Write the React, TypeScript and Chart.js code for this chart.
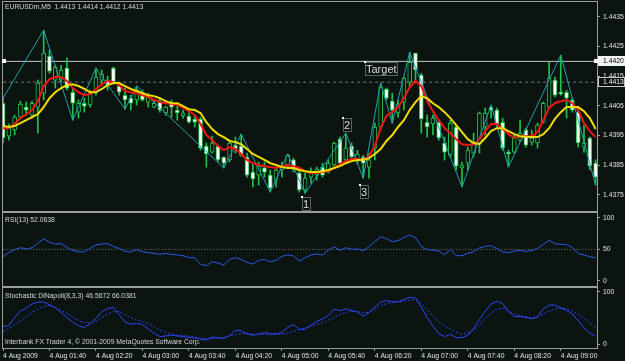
import React, { useEffect, useRef } from "react";
import { Chart, registerables } from "chart.js";

Chart.register(...registerables);

// ---------------- data ----------------
const titleText = "EURUSDm,M5  1.4413 1.4414 1.4412 1.4413";
const rsiTitle = "RSI(13) 52.0638";
const stochTitle = "Stochastic DiNapoli(8,3,3) 46.5672 66.0381";
const copyrightText = "Interbank FX Trader 4, \u00a9 2001-2009 MetaQuotes Software Corp.";

const timeLabels = [
  "4 Aug 2009", "4 Aug 01:40", "4 Aug 02:20", "4 Aug 03:00", "4 Aug 03:40", "4 Aug 04:20",
  "4 Aug 05:00", "4 Aug 05:40", "4 Aug 06:20", "4 Aug 07:00", "4 Aug 07:40", "4 Aug 08:20", "4 Aug 09:00",
];
const labelStep = 8; // bars between time labels (40 min on M5)
const priceTicks = [1.4375, 1.4385, 1.4395, 1.4405, 1.4415, 1.4425, 1.4435];
const rsiTicks = [0, 50, 100];
const rsiLevel = 50;
const stochTicks = [0, 100];

const openP = [
  1.44059, 1.43948, 1.43969, 1.44012, 1.44046, 1.44019, 1.44046, 1.44093, 1.44218, 1.44137,
  1.44147, 1.44177, 1.44096, 1.44029, 1.44059, 1.44053, 1.44096, 1.44137, 1.44137, 1.44177,
  1.44117, 1.44086, 1.44076, 1.44070, 1.44096, 1.44063, 1.44046, 1.44066, 1.44026, 1.44059,
  1.44036, 1.44016, 1.44016, 1.44006, 1.44006, 1.43915, 1.43894, 1.43915, 1.43878, 1.43868,
  1.43918, 1.43915, 1.43878, 1.43827, 1.43817, 1.43841, 1.43817, 1.43800, 1.43834, 1.43847,
  1.43868, 1.43824, 1.43767, 1.43810, 1.43817, 1.43844, 1.43827, 1.43851, 1.43938, 1.43868,
  1.43915, 1.43864, 1.43878, 1.43844, 1.43908, 1.43979, 1.44107, 1.44066, 1.44026, 1.44063,
  1.44130, 1.44228, 1.44154, 1.43995, 1.43989, 1.43995, 1.43925, 1.43884, 1.43979, 1.43841,
  1.43857, 1.43891, 1.43925, 1.43979, 1.44046, 1.44036, 1.43995, 1.43894, 1.43894, 1.43935,
  1.43969, 1.43928, 1.43925, 1.43995, 1.44046, 1.44137, 1.44096, 1.44096, 1.44070, 1.44029,
  1.43911, 1.43942, 1.43857,
];
const highP = [
  1.44080, 1.43989, 1.44019, 1.44066, 1.44063, 1.44066, 1.44137, 1.44305, 1.44238, 1.44187,
  1.44187, 1.44211, 1.44110, 1.44070, 1.44076, 1.44103, 1.44177, 1.44171, 1.44150, 1.44181,
  1.44127, 1.44110, 1.44086, 1.44117, 1.44103, 1.44093, 1.44070, 1.44076, 1.44049, 1.44070,
  1.44053, 1.44036, 1.44026, 1.44019, 1.44012, 1.43925, 1.43948, 1.43918, 1.43878, 1.43935,
  1.43945, 1.43955, 1.43891, 1.43857, 1.43861, 1.43861, 1.43834, 1.43844, 1.43861, 1.43888,
  1.43874, 1.43834, 1.43824, 1.43841, 1.43844, 1.43857, 1.43868, 1.43928, 1.43945, 1.43958,
  1.43925, 1.43901, 1.43884, 1.43891, 1.43992, 1.44127, 1.44110, 1.44093, 1.44070, 1.44147,
  1.44231, 1.44228, 1.44160, 1.44019, 1.44019, 1.44002, 1.43945, 1.44002, 1.43985, 1.43861,
  1.43911, 1.43958, 1.44029, 1.44043, 1.44053, 1.44043, 1.44009, 1.43901, 1.43958, 1.44002,
  1.43975, 1.43969, 1.43992, 1.44063, 1.44197, 1.44147, 1.44221, 1.44103, 1.44076, 1.44043,
  1.43985, 1.43945, 1.43868,
];
const lowP = [
  1.43925, 1.43935, 1.43952, 1.44006, 1.44019, 1.44009, 1.43958, 1.44070, 1.44160, 1.44110,
  1.44130, 1.44103, 1.44002, 1.44009, 1.44029, 1.44046, 1.44086, 1.44120, 1.44103, 1.44123,
  1.44086, 1.44039, 1.44036, 1.44053, 1.44066, 1.44046, 1.44043, 1.44029, 1.44019, 1.44012,
  1.44002, 1.44009, 1.43992, 1.43979, 1.43901, 1.43844, 1.43891, 1.43861, 1.43841, 1.43861,
  1.43891, 1.43881, 1.43810, 1.43777, 1.43783, 1.43810, 1.43760, 1.43777, 1.43810, 1.43841,
  1.43827, 1.43760, 1.43756, 1.43790, 1.43800, 1.43810, 1.43824, 1.43847, 1.43854, 1.43861,
  1.43868, 1.43854, 1.43807, 1.43807, 1.43868, 1.43969, 1.44070, 1.43992, 1.44012, 1.44036,
  1.44113, 1.44127, 1.43958, 1.43945, 1.43952, 1.43935, 1.43868, 1.43878, 1.43834, 1.43777,
  1.43834, 1.43878, 1.43891, 1.43952, 1.44009, 1.43979, 1.43901, 1.43844, 1.43891, 1.43928,
  1.43911, 1.43918, 1.43908, 1.43992, 1.44043, 1.44080, 1.44086, 1.44009, 1.44029, 1.43911,
  1.43894, 1.43834, 1.43783,
];
const closeP = [
  1.43942, 1.43975, 1.44012, 1.44056, 1.44036, 1.44059, 1.44127, 1.44228, 1.44167, 1.44181,
  1.44171, 1.44110, 1.44059, 1.44059, 1.44049, 1.44093, 1.44147, 1.44157, 1.44120, 1.44130,
  1.44096, 1.44070, 1.44059, 1.44103, 1.44070, 1.44080, 1.44059, 1.44036, 1.44046, 1.44046,
  1.44026, 1.44026, 1.43995, 1.43995, 1.43908, 1.43888, 1.43925, 1.43868, 1.43857, 1.43925,
  1.43905, 1.43884, 1.43817, 1.43804, 1.43847, 1.43827, 1.43773, 1.43834, 1.43847, 1.43884,
  1.43837, 1.43767, 1.43807, 1.43827, 1.43837, 1.43817, 1.43857, 1.43925, 1.43857, 1.43908,
  1.43878, 1.43888, 1.43857, 1.43868, 1.43979, 1.44113, 1.44076, 1.44036, 1.44056, 1.44144,
  1.44197, 1.44171, 1.44006, 1.43979, 1.44009, 1.43942, 1.43894, 1.43992, 1.43847, 1.43851,
  1.43901, 1.43928, 1.44026, 1.44026, 1.44036, 1.43985, 1.43908, 1.43888, 1.43945, 1.43958,
  1.43918, 1.43942, 1.43985, 1.44059, 1.44144, 1.44086, 1.44090, 1.44076, 1.44036, 1.43925,
  1.43925, 1.43847, 1.43810,
];
const maFast = [
  1.43975, 1.43975, 1.43989, 1.44009, 1.44022, 1.44036, 1.44066, 1.44117, 1.44140, 1.44147,
  1.44147, 1.44134, 1.44110, 1.44096, 1.44086, 1.44090, 1.44107, 1.44123, 1.44134, 1.44130,
  1.44120, 1.44100, 1.44096, 1.44093, 1.44086, 1.44080, 1.44070, 1.44063, 1.44059, 1.44056,
  1.44053, 1.44043, 1.44032, 1.44019, 1.43989, 1.43952, 1.43935, 1.43915, 1.43901, 1.43911,
  1.43905, 1.43888, 1.43868, 1.43857, 1.43851, 1.43847, 1.43844, 1.43841, 1.43847, 1.43851,
  1.43847, 1.43841, 1.43830, 1.43824, 1.43824, 1.43827, 1.43830, 1.43841, 1.43854, 1.43864,
  1.43871, 1.43871, 1.43868, 1.43881, 1.43915, 1.43975, 1.44016, 1.44029, 1.44046, 1.44076,
  1.44113, 1.44134, 1.44117, 1.44066, 1.44032, 1.44002, 1.43975, 1.43958, 1.43938, 1.43921,
  1.43918, 1.43921, 1.43938, 1.43965, 1.43989, 1.43989, 1.43972, 1.43955, 1.43942, 1.43948,
  1.43948, 1.43948, 1.43962, 1.44002, 1.44043, 1.44059, 1.44066, 1.44070, 1.44059, 1.44036,
  1.43992, 1.43965, 1.43945,
];
const maSlow = [
  1.43982, 1.43979, 1.43982, 1.43992, 1.44002, 1.44012, 1.44022, 1.44046, 1.44076, 1.44096,
  1.44110, 1.44120, 1.44123, 1.44117, 1.44107, 1.44096, 1.44096, 1.44107, 1.44120, 1.44127,
  1.44127, 1.44117, 1.44107, 1.44100, 1.44093, 1.44086, 1.44083, 1.44076, 1.44066, 1.44059,
  1.44059, 1.44049, 1.44039, 1.44036, 1.44026, 1.43995, 1.43972, 1.43955, 1.43945, 1.43932,
  1.43928, 1.43921, 1.43905, 1.43888, 1.43878, 1.43868, 1.43857, 1.43851, 1.43844, 1.43841,
  1.43841, 1.43834, 1.43830, 1.43827, 1.43827, 1.43830, 1.43834, 1.43841, 1.43847, 1.43857,
  1.43864, 1.43868, 1.43868, 1.43874, 1.43888, 1.43905, 1.43932, 1.43952, 1.43979, 1.44002,
  1.44036, 1.44063, 1.44083, 1.44076, 1.44059, 1.44046, 1.44029, 1.44009, 1.43985, 1.43962,
  1.43938, 1.43925, 1.43921, 1.43942, 1.43965, 1.43975, 1.43975, 1.43965, 1.43955, 1.43948,
  1.43945, 1.43945, 1.43945, 1.43955, 1.43975, 1.44006, 1.44029, 1.44046, 1.44046, 1.44046,
  1.44032, 1.44009, 1.43972,
];
const zzBars = [0, 7, 12, 16, 21, 23, 38, 41, 46, 49, 52, 59, 62, 65, 67, 70, 79, 84, 87, 96, 102];
const zzPrices = [
  1.44076, 1.44305, 1.44002, 1.44177, 1.44039, 1.44117, 1.43841, 1.43955, 1.43760, 1.43888, 1.43756,
  1.43958, 1.43807, 1.44127, 1.43992, 1.44231, 1.43777, 1.44053, 1.43844, 1.44221, 1.43783,
];
const levelPrices = [1.442, 1.4413];
const markTexts = ["1", "2", "3", "Target"];
const markBars = [51.4, 58.5, 61.45, 62.3];
const markPrices = [1.43744, 1.44009, 1.43783, 1.44198];

const rsi = [
  38.4, 44.7, 49.5, 52.6, 50.5, 52.6, 59.5, 66.8, 61.1, 58.4,
  58.9, 53.2, 48.4, 46.3, 45.8, 51.6, 56.8, 58.4, 58.9, 54.7,
  51.6, 46.8, 45.8, 49.5, 46.3, 44.7, 43.7, 42.1, 43.7, 42.1,
  41.1, 40.0, 36.8, 36.8, 26.3, 24.2, 30.5, 28.4, 25.3, 34.2,
  36.8, 34.2, 29.5, 26.8, 32.6, 34.2, 30.5, 32.6, 38.9, 41.1,
  39.5, 31.6, 36.8, 41.1, 42.6, 41.1, 48.4, 54.2, 48.4, 52.6,
  50.0, 50.5, 47.9, 54.2, 62.1, 70.0, 66.8, 62.1, 63.7, 68.9,
  72.6, 68.4, 54.2, 49.5, 48.9, 47.4, 41.1, 50.0, 40.0, 40.0,
  43.7, 46.3, 52.1, 54.7, 55.8, 51.6, 45.8, 44.7, 47.4, 48.4,
  46.8, 47.9, 51.6, 57.4, 64.2, 58.9, 57.9, 57.4, 53.2, 43.7,
  41.1, 38.4, 36.8,
];
const stochMain = [
  34.0, 35.9, 51.3, 63.5, 69.2, 76.9, 80.8, 80.8, 75.6, 69.9,
  60.9, 51.3, 42.3, 35.3, 32.1, 39.1, 49.4, 62.2, 67.9, 70.5,
  57.1, 42.3, 38.5, 39.7, 37.8, 29.5, 21.2, 14.7, 16.0, 17.3,
  16.0, 14.7, 12.8, 12.2, 9.6, 8.3, 14.1, 12.2, 11.5, 16.7,
  26.9, 25.6, 19.9, 17.3, 19.9, 22.4, 20.5, 19.9, 22.4, 32.1,
  37.8, 28.2, 28.8, 36.5, 43.6, 48.7, 55.1, 67.3, 64.1, 67.9,
  64.7, 61.5, 53.8, 60.9, 71.2, 80.8, 83.3, 81.4, 81.4, 85.9,
  89.7, 88.5, 71.2, 51.3, 34.6, 20.5, 14.7, 19.2, 12.8, 12.8,
  17.3, 29.5, 47.4, 63.5, 76.9, 82.1, 77.6, 62.8, 53.2, 53.2,
  51.3, 48.7, 52.6, 67.9, 75.0, 75.0, 69.9, 64.7, 58.3, 44.9,
  31.4, 21.2, 15.4,
];
const stochSignal = [
  24.4, 29.5, 37.2, 44.2, 53.2, 60.9, 67.3, 72.4, 74.4, 69.9,
  64.7, 59.0, 51.9, 44.9, 41.7, 41.0, 44.2, 51.3, 57.7, 62.2,
  62.8, 56.4, 50.6, 46.2, 43.6, 39.7, 34.0, 26.9, 22.4, 19.2,
  17.3, 16.7, 15.4, 13.5, 11.5, 10.3, 10.9, 12.2, 12.8, 16.0,
  18.6, 19.9, 21.2, 19.2, 17.9, 19.2, 17.9, 18.6, 19.9, 21.2,
  24.4, 28.2, 31.4, 34.6, 37.8, 41.0, 46.2, 50.6, 57.1, 60.9,
  62.8, 62.8, 60.9, 60.9, 66.7, 73.7, 77.6, 79.5, 80.8, 82.7,
  84.6, 85.3, 78.2, 66.0, 54.5, 42.9, 35.3, 28.8, 23.7, 19.2,
  21.8, 27.6, 36.5, 49.4, 59.6, 66.7, 69.2, 64.1, 58.3, 55.1,
  53.2, 50.6, 52.6, 57.7, 63.5, 67.3, 69.2, 67.9, 64.1, 57.1,
  50.0, 40.4, 32.1,
];

// ---------------- styling ----------------
const BG = "#0c1410";
const FRAME = "#9c9c9c";
const TXT = "#e2e2e2";
const GREEN = "#1fc24a";
const FONT = "'Liberation Sans', Arial, sans-serif";
const FS = 6.8;
const XMAX = 102.24;

const bars = openP.map((_, i) => i);

function zeroPad(s: any) {
  s.paddingTop = 0;
  s.paddingBottom = 0;
  s.paddingLeft = 0;
  s.paddingRight = 0;
}

function xScale(display: boolean) {
  return {
    type: "linear",
    min: 0,
    max: XMAX,
    offset: false,
    display,
    grid: { display, drawOnChartArea: false, drawTicks: true, tickLength: 3, color: FRAME, offset: false },
    border: { display: false },
    ticks: {
      display,
      align: "start",
      color: TXT,
      font: { family: FONT, size: FS },
      padding: 1,
      maxRotation: 0,
      minRotation: 0,
      autoSkip: false,
      callback: (v: number) => timeLabels[Math.round(v / labelStep)] ?? "",
    },
    afterBuildTicks: (s: any) => {
      s.ticks = timeLabels.map((_, k) => ({ value: k * labelStep }));
    },
    afterFit: (s: any) => {
      if (display) s.height = 13;
      zeroPad(s);
    },
  };
}

function yScale(min: number, max: number, ticks: number[], fmt: (v: number) => string) {
  return {
    type: "linear",
    position: "right",
    min,
    max,
    grid: { drawOnChartArea: false, drawTicks: true, tickLength: 3, color: FRAME },
    border: { display: false },
    ticks: {
      color: TXT,
      font: { family: FONT, size: FS },
      padding: 3,
      autoSkip: false,
      callback: (v: number) => fmt(Number(v)),
    },
    afterBuildTicks: (s: any) => {
      s.ticks = ticks.map((v) => ({ value: v }));
    },
    afterFit: (s: any) => {
      s.width = 28;
      zeroPad(s);
    },
  };
}

const framePlugin = {
  id: "frame",
  afterDraw(chart: any) {
    const { ctx, chartArea: a } = chart;
    ctx.save();
    ctx.strokeStyle = FRAME;
    ctx.lineWidth = 1;
    ctx.strokeRect(a.left - 0.5, a.top - 0.5, a.right - a.left + 1, a.bottom - a.top + 1);
    ctx.restore();
  },
};

function textPlugin(items: { t: string; x: number; y: number }[]) {
  return {
    id: "texts",
    afterDraw(chart: any) {
      const ctx = chart.ctx;
      ctx.save();
      ctx.font = `${FS}px ${FONT}`;
      ctx.fillStyle = "#d4d4d4";
      ctx.textBaseline = "middle";
      ctx.textAlign = "left";
      items.forEach((it) => ctx.fillText(it.t, it.x, it.y));
      ctx.restore();
    },
  };
}

const marksPlugin = {
  id: "marks",
  afterDatasetsDraw(chart: any) {
    const { ctx } = chart;
    const x = chart.scales.x;
    const y = chart.scales.y;
    ctx.save();
    ctx.font = `11px ${FONT}`;
    ctx.textBaseline = "top";
    ctx.textAlign = "left";
    markTexts.forEach((t, k) => {
      const px = Math.round(x.getPixelForValue(markBars[k]));
      const py = Math.round(y.getPixelForValue(markPrices[k]));
      const w = Math.ceil(ctx.measureText(t).width) + 1;
      const h = 13;
      ctx.strokeStyle = "#58625e";
      ctx.lineWidth = 1;
      ctx.strokeRect(px + 0.5, py + 0.5, w, h);
      ctx.fillStyle = "#dcdcdc";
      ctx.fillText(t, px + 1, py + 2);
      ctx.fillStyle = "#ffffff";
      ctx.fillRect(px - 1, py - 1, 2, 2);
    });
    ctx.restore();
  },
  afterDraw(chart: any) {
    const { ctx, chartArea: a } = chart;
    const y = chart.scales.y;
    ctx.save();
    ctx.font = `${FS}px ${FONT}`;
    ctx.textBaseline = "middle";
    ctx.textAlign = "left";
    levelPrices.forEach((p, k) => {
      const py = Math.round(y.getPixelForValue(p));
      if (k === 0) {
        ctx.fillStyle = "#f2f2f2";
        ctx.fillRect(a.right + 1, py - 5, 27, 10);
        ctx.fillRect(a.right - 3, py - 2, 4, 4);
        ctx.fillRect(a.left - 1, py - 2, 4, 4);
        ctx.fillStyle = "#000000";
        ctx.fillText(p.toFixed(4), a.right + 6, py + 0.5);
      } else {
        ctx.fillStyle = BG;
        ctx.fillRect(a.right + 1, py - 5, 27, 10);
        ctx.strokeStyle = "#c8c8c8";
        ctx.strokeRect(a.right + 1.5, py - 4.5, 26, 9);
        ctx.fillStyle = "#f0f0f0";
        ctx.fillText(p.toFixed(4), a.right + 6, py + 0.5);
      }
    });
    ctx.restore();
  },
};

function mainConfig(): any {
  return {
    type: "bar",
    data: {
      datasets: [
        {
          type: "line",
          data: bars.map((i) => ({ x: i, y: maSlow[i] })),
          borderColor: "#f0dc00",
          borderWidth: 2,
          pointRadius: 0,
          order: 0,
        },
        {
          type: "line",
          data: bars.map((i) => ({ x: i, y: maFast[i] })),
          borderColor: "#f01414",
          borderWidth: 2,
          pointRadius: 0,
          order: 1,
        },
        {
          type: "line",
          data: zzBars.map((b, k) => ({ x: b, y: zzPrices[k] })),
          borderColor: "#22a0b4",
          borderWidth: 1,
          pointRadius: 0,
          order: 2,
        },
        {
          type: "bar",
          data: bars.map((i) => ({ x: i, y: [openP[i], closeP[i]] })),
          backgroundColor: bars.map((i) => (closeP[i] < openP[i] ? "#ffffff" : BG)),
          borderColor: GREEN,
          borderWidth: 1,
          borderSkipped: false,
          barThickness: 4,
          grouped: false,
          order: 3,
        },
        {
          type: "bar",
          data: bars.map((i) => ({ x: i, y: [lowP[i], highP[i]] })),
          backgroundColor: GREEN,
          borderWidth: 0,
          barThickness: 1,
          grouped: false,
          order: 4,
        },
        {
          type: "line",
          data: [{ x: -1, y: levelPrices[0] }, { x: 104, y: levelPrices[0] }],
          borderColor: "#c4c4c4",
          borderWidth: 1,
          pointRadius: 0,
          order: 5,
        },
        {
          type: "line",
          data: [{ x: -1, y: levelPrices[1] }, { x: 104, y: levelPrices[1] }],
          borderColor: "#7a7a7a",
          borderWidth: 1,
          borderDash: [3, 3],
          pointRadius: 0,
          order: 5,
        },
      ],
    },
    options: {
      responsive: false,
      maintainAspectRatio: false,
      animation: false,
      events: [],
      layout: { padding: { left: 3, top: 2, bottom: 1, right: 0 } },
      plugins: { legend: { display: false }, tooltip: { enabled: false } },
      scales: {
        x: xScale(false),
        y: yScale(1.43696, 1.444, priceTicks, (v) => v.toFixed(4)),
      },
    },
    plugins: [framePlugin, marksPlugin, textPlugin([{ t: titleText, x: 5, y: 7 }])],
  };
}

function rsiConfig(): any {
  return {
    type: "line",
    data: {
      datasets: [
        {
          data: bars.map((i) => ({ x: i, y: rsi[i] })),
          borderColor: "#2a58ea",
          borderWidth: 1,
          pointRadius: 0,
          order: 0,
        },
        {
          data: [{ x: -1, y: rsiLevel }, { x: 104, y: rsiLevel }],
          borderColor: "#7c7c7c",
          borderWidth: 1,
          borderDash: [1, 2],
          pointRadius: 0,
          order: 1,
        },
      ],
    },
    options: {
      responsive: false,
      maintainAspectRatio: false,
      animation: false,
      events: [],
      layout: { padding: { left: 3, top: 1, bottom: 1, right: 0 } },
      plugins: { legend: { display: false }, tooltip: { enabled: false } },
      scales: {
        x: xScale(false),
        y: yScale(-7.9, 107.4, rsiTicks, (v) => String(v)),
      },
    },
    plugins: [framePlugin, textPlugin([{ t: rsiTitle, x: 5, y: 8 }])],
  };
}

function stochConfig(): any {
  return {
    type: "line",
    data: {
      datasets: [
        {
          data: bars.map((i) => ({ x: i, y: stochMain[i] })),
          borderColor: "#2a46ff",
          borderWidth: 1,
          pointRadius: 0,
          order: 0,
        },
        {
          data: bars.map((i) => ({ x: i, y: stochSignal[i] })),
          borderColor: "#2a46ff",
          borderWidth: 1,
          borderDash: [2, 2],
          pointRadius: 0,
          order: 1,
        },
      ],
    },
    options: {
      responsive: false,
      maintainAspectRatio: false,
      animation: false,
      events: [],
      layout: { padding: { left: 3, top: 1, bottom: 0, right: 0 } },
      plugins: { legend: { display: false }, tooltip: { enabled: false } },
      scales: {
        x: xScale(true),
        y: yScale(-7.1, 107.6, stochTicks, (v) => String(v)),
      },
    },
    plugins: [
      framePlugin,
      textPlugin([
        { t: stochTitle, x: 5, y: 9 },
        { t: copyrightText, x: 5, y: 55.5 },
      ]),
    ],
  };
}

export default function App() {
  const r1 = useRef<HTMLCanvasElement>(null);
  const r2 = useRef<HTMLCanvasElement>(null);
  const r3 = useRef<HTMLCanvasElement>(null);

  useEffect(() => {
    const c1 = new Chart(r1.current as HTMLCanvasElement, mainConfig());
    const c2 = new Chart(r2.current as HTMLCanvasElement, rsiConfig());
    const c3 = new Chart(r3.current as HTMLCanvasElement, stochConfig());
    return () => {
      c1.destroy();
      c2.destroy();
      c3.destroy();
    };
  }, []);

  return (
    <div
      style={{
        position: "fixed",
        left: 0,
        top: 0,
        width: 625,
        height: 361,
        background: BG,
        overflow: "hidden",
      }}
    >
      <canvas ref={r1} width={625} height={212} style={{ position: "absolute", left: 0, top: 0, width: 625, height: 212 }} />
      <canvas ref={r2} width={625} height={75} style={{ position: "absolute", left: 0, top: 212, width: 625, height: 75 }} />
      <canvas ref={r3} width={625} height={74} style={{ position: "absolute", left: 0, top: 287, width: 625, height: 74 }} />
    </div>
  );
}
